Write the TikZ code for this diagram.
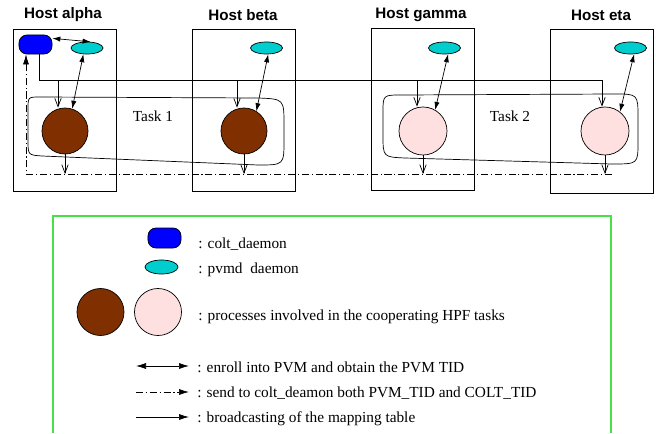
\documentclass[tikz,border=0pt]{standalone}
\usepackage{fontspec}
\setmainfont{Liberation Serif}
\newfontfamily\hostfont{Liberation Sans}
\usetikzlibrary{arrows.meta,shapes.geometric}

\definecolor{coltblue}{RGB}{0,0,255}
\definecolor{pvmcyan}{RGB}{0,205,205}
\definecolor{procbrown}{RGB}{128,48,0}
\definecolor{procpink}{RGB}{255,224,224}
\definecolor{legendgreen}{RGB}{70,225,70}

\tikzset{
  host/.style={draw, minimum width=2.575cm, minimum height=4.05cm, inner sep=0pt},
  hostname/.style={font=\hostfont\bfseries\fontsize{10.8}{13}\selectfont, inner sep=0pt},
  colt/.style={draw, fill=coltblue, rounded corners=0.2cm, minimum width=0.825cm, minimum height=0.475cm, inner sep=0pt},
  pvmd/.style={draw, ellipse, fill=pvmcyan, minimum width=0.8cm, minimum height=0.3cm, inner sep=0pt},
  proc/.style={draw, circle, minimum size=1.15cm, inner sep=0pt},
  enroll/.style={{Latex[length=2mm,width=1.3mm]}-{Latex[length=2mm,width=1.3mm]}},
  bcast/.style={-{Straight Barb[length=2.1mm,width=1.6mm]}},
  sendto/.style={dash pattern=on 5pt off 2pt on 0.8pt off 2pt},
  bigtip/.style={-{Latex[length=2.5mm,width=1.5mm]}},
  txt/.style={font=\fontsize{10.9}{13}\selectfont, inner sep=0pt},
}

\begin{document}
\begin{tikzpicture}[x=0.025cm, y=-0.025cm, line width=0.5pt]
    \useasboundingbox (0,0) rectangle (656,433);

    \node[host] (ha) at (64.5,110) {};
    \node[host] (hb) at (243.5,110) {};
    \node[host] (hg) at (422.5,109.5) {};
    \node[host, minimum height=4.1cm] (he) at (601.5,111) {};

    \node[hostname] (na) at (63,15) {Host alpha};
    \node[hostname] (nb) at (243,15) {Host beta};
    \node[hostname] (ng) at (421,15) {Host gamma};
    \node[hostname] (ne) at (601,15) {Host eta};

    \draw (28,140) -- (28,109) .. controls (28,97) .. (40,97) -- (258,98) .. controls (284,99) .. (284,125)
        -- (284,140) .. controls (284,165) .. (258,165) -- (42,156) .. controls (28,155) .. (28,140) -- cycle;
    \draw (383,135) -- (383,112) .. controls (383,95) .. (402,95) -- (614,94) .. controls (638,94) .. (638,118)
        -- (638,142) .. controls (638,164) .. (612,164) -- (405,158) .. controls (383,157) .. (383,135) -- cycle;
    \node[txt] (task1) at (153,116) {Task 1};
    \node[txt] (task2) at (510,116) {Task 2};

    \node[colt] (colt) at (35.5,44.5) {};
    \node[pvmd] (va) at (87,48) {};
    \node[pvmd] (vb) at (266.5,48) {};
    \node[pvmd] (vg) at (444.5,48) {};
    \node[pvmd] (ve) at (630.5,48) {};

    \node[proc, fill=procbrown] (pa) at (65,131) {};
    \node[proc, fill=procbrown] (pb) at (244,131) {};
    \node[proc, fill=procpink, minimum size=1.2cm] (pg) at (423,131) {};
    \node[proc, fill=procpink, minimum size=1.2cm] (pe) at (605,131) {};

    \draw[enroll] (colt.20) -- (va.60);
    \draw[enroll] (pa.72) -- (va.-120);
    \draw[enroll] (pb.58) -- (vb.-75);
    \draw[enroll] (pg.60) -- (vg.-60);
    \draw[enroll] (pe.52) -- (ve.-60);

    \coordinate (b0) at (39,80);
    \coordinate (ba) at (58,80);
    \coordinate (bb) at (237,80);
    \coordinate (bg) at (417,80);
    \coordinate (be) at (602,80);
    \draw[bcast] (b0 |- colt.south) -- (b0) -- (be) -- (be |- pe.north);
    \foreach \b/\p in {ba/pa, bb/pb, bg/pg}
        \draw[bcast] (\b) -- (\b |- \p.north);

    \coordinate (d0) at (26,174);
    \coordinate (d1) at (612,174);
    \draw[sendto, bigtip] (d1) -- (d0) -- (d0 |- colt.south);
    \foreach \p in {pa,pb,pg,pe}
        \draw[bcast] (\p.south) -- (\p.south |- d0);

    \draw[legendgreen, line width=1pt] (53,433) -- (53,216) -- (611,216) -- (611,433);

    \node[colt, minimum height=0.5cm] (lc) at (164.5,238) {};
    \node[pvmd, minimum width=0.825cm, minimum height=0.35cm] (lv) at (161.5,267) {};
    \node[proc, fill=procbrown, minimum size=1.175cm] (lpa) at (100.5,312) {};
    \node[proc, fill=procpink, minimum size=1.175cm] (lpb) at (158,312) {};
    \node[txt, anchor=base west] (lct) at (198,248) {: colt\_daemon};
    \node[txt, anchor=base west] (lvt) at (198,273) {: pvmd~~daemon};
    \node[txt, anchor=base west] (lpt) at (198,320) {: processes involved in the cooperating HPF tasks};

    \coordinate (le1) at (136,366);
    \coordinate (le2) at (189,366);
    \coordinate (ls1) at (136,392);
    \coordinate (ls2) at (189,392);
    \coordinate (lb1) at (136,417);
    \coordinate (lb2) at (189,417);
    \draw[{Latex[length=2.5mm,width=1.5mm]}-{Latex[length=2.5mm,width=1.5mm]}] (le1) -- (le2);
    \draw[sendto, bigtip] (ls1) -- (ls2);
    \draw[bigtip] (lb1) -- (lb2);
    \node[txt, anchor=base west] (let) at (197,372) {: enroll into PVM and obtain the PVM TID};
    \node[txt, anchor=base west] (lst) at (197,397) {: send to colt\_deamon both PVM\_TID and COLT\_TID};
    \node[txt, anchor=base west] (lbt) at (197,422) {: broadcasting of the mapping table};
\end{tikzpicture}
\end{document}
